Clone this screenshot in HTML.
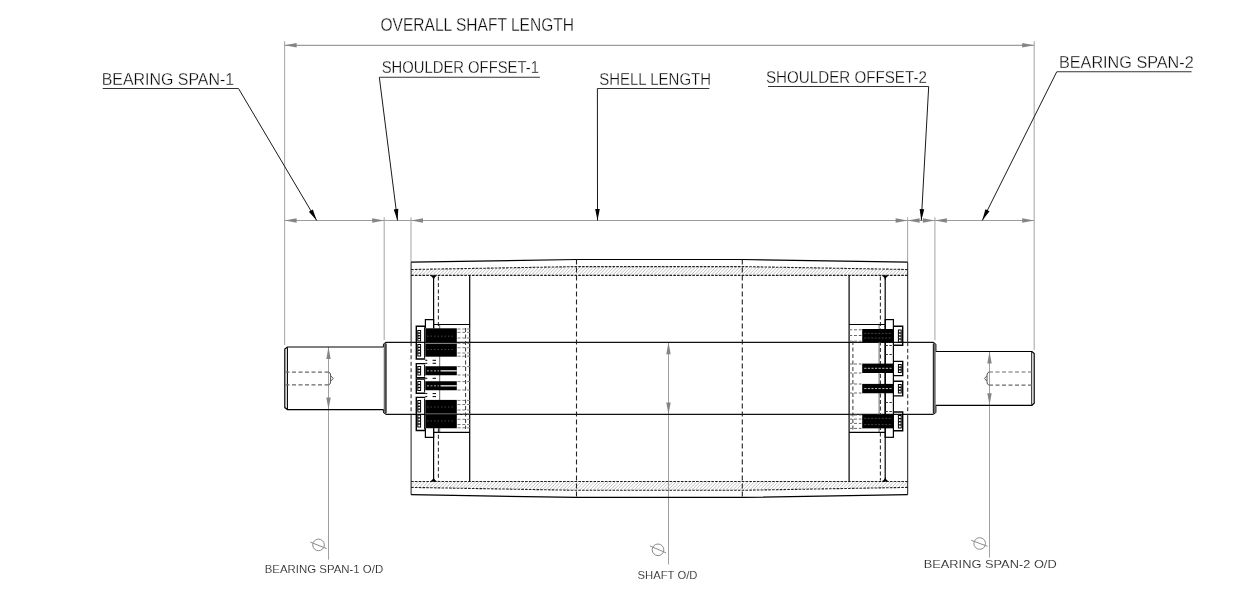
<!DOCTYPE html>
<html><head><meta charset="utf-8"><style>
html,body{margin:0;padding:0;background:#fff;overflow:hidden;}
svg{display:block;will-change:transform;}
text{font-family:"Liberation Sans", sans-serif;}
</style></head><body>
<svg width="1240" height="600" viewBox="0 0 1240 600">
<rect width="1240" height="600" fill="#ffffff"/>
<line x1="284.60" y1="41.20" x2="284.60" y2="345.00" stroke="#ababab" stroke-width="1.1"/>
<line x1="1034.20" y1="41.20" x2="1034.20" y2="349.80" stroke="#ababab" stroke-width="1.1"/>
<line x1="284.60" y1="45.30" x2="1034.20" y2="45.30" stroke="#9c9c9c" stroke-width="1.15"/>
<polygon points="284.60,45.30 296.60,43.10 296.60,47.50" fill="#858585"/>
<polygon points="1034.20,45.30 1022.20,47.50 1022.20,43.10" fill="#858585"/>
<line x1="284.60" y1="220.50" x2="1034.20" y2="220.50" stroke="#9c9c9c" stroke-width="1.15"/>
<line x1="384.20" y1="217.30" x2="384.20" y2="340.00" stroke="#ababab" stroke-width="1.1"/>
<line x1="411.00" y1="217.30" x2="411.00" y2="262.00" stroke="#ababab" stroke-width="1.1"/>
<line x1="907.60" y1="217.30" x2="907.60" y2="262.00" stroke="#ababab" stroke-width="1.1"/>
<line x1="934.90" y1="217.30" x2="934.90" y2="340.30" stroke="#ababab" stroke-width="1.1"/>
<polygon points="284.60,220.50 296.60,218.30 296.60,222.70" fill="#858585"/>
<polygon points="384.20,220.50 372.20,222.70 372.20,218.30" fill="#858585"/>
<polygon points="411.00,220.50 423.00,218.30 423.00,222.70" fill="#858585"/>
<polygon points="907.60,220.50 895.60,222.70 895.60,218.30" fill="#858585"/>
<polygon points="907.60,220.50 919.60,218.30 919.60,222.70" fill="#858585"/>
<polygon points="934.90,220.50 922.90,222.70 922.90,218.30" fill="#858585"/>
<polygon points="934.90,220.50 946.90,218.30 946.90,222.70" fill="#858585"/>
<polygon points="1034.20,220.50 1022.20,222.70 1022.20,218.30" fill="#858585"/>
<line x1="238.50" y1="88.50" x2="316.70" y2="220.50" stroke="#1a1a1a" stroke-width="1.0"/>
<polygon points="316.70,220.50 308.86,211.78 312.82,209.43" fill="#000000"/>
<line x1="379.30" y1="77.20" x2="397.50" y2="220.50" stroke="#1a1a1a" stroke-width="1.0"/>
<polygon points="397.50,220.50 393.77,209.38 398.33,208.80" fill="#000000"/>
<line x1="597.40" y1="88.50" x2="597.50" y2="220.50" stroke="#1a1a1a" stroke-width="1.0"/>
<polygon points="597.50,220.50 595.19,209.00 599.79,209.00" fill="#000000"/>
<line x1="928.70" y1="86.50" x2="921.30" y2="220.50" stroke="#1a1a1a" stroke-width="1.0"/>
<polygon points="921.30,220.50 919.64,208.89 924.23,209.14" fill="#000000"/>
<line x1="1056.75" y1="71.75" x2="982.30" y2="220.50" stroke="#1a1a1a" stroke-width="1.0"/>
<polygon points="982.30,220.50 985.39,209.19 989.50,211.25" fill="#000000"/>
<line x1="102.70" y1="88.50" x2="238.50" y2="88.50" stroke="#333" stroke-width="1.1"/>
<line x1="379.30" y1="77.20" x2="540.00" y2="77.20" stroke="#333" stroke-width="1.1"/>
<line x1="597.40" y1="88.50" x2="709.30" y2="88.50" stroke="#333" stroke-width="1.1"/>
<line x1="768.00" y1="86.50" x2="928.70" y2="86.50" stroke="#333" stroke-width="1.1"/>
<line x1="1056.75" y1="71.75" x2="1191.60" y2="71.75" stroke="#333" stroke-width="1.1"/>
<text x="380.50" y="30.60" font-size="18.2" textLength="193.50" lengthAdjust="spacingAndGlyphs" fill="#0a0a0a" stroke="#ffffff" stroke-width="0.3">OVERALL SHAFT LENGTH</text>
<text x="101.70" y="84.75" font-size="17.4" textLength="132.40" lengthAdjust="spacingAndGlyphs" fill="#0a0a0a" stroke="#ffffff" stroke-width="0.3">BEARING SPAN-1</text>
<text x="381.70" y="73.30" font-size="17.4" textLength="157.20" lengthAdjust="spacingAndGlyphs" fill="#0a0a0a" stroke="#ffffff" stroke-width="0.3">SHOULDER OFFSET-1</text>
<text x="599.20" y="85.20" font-size="17.4" textLength="111.80" lengthAdjust="spacingAndGlyphs" fill="#0a0a0a" stroke="#ffffff" stroke-width="0.3">SHELL LENGTH</text>
<text x="766.00" y="82.70" font-size="17.4" textLength="160.90" lengthAdjust="spacingAndGlyphs" fill="#0a0a0a" stroke="#ffffff" stroke-width="0.3">SHOULDER OFFSET-2</text>
<text x="1059.00" y="67.75" font-size="17.4" textLength="134.70" lengthAdjust="spacingAndGlyphs" fill="#0a0a0a" stroke="#ffffff" stroke-width="0.3">BEARING SPAN-2</text>
<text x="264.70" y="572.90" font-size="11.6" textLength="118.50" lengthAdjust="spacingAndGlyphs" fill="#262626" stroke="#ffffff" stroke-width="0.12">BEARING SPAN-1 O/D</text>
<text x="637.60" y="579.00" font-size="11.6" textLength="59.80" lengthAdjust="spacingAndGlyphs" fill="#262626" stroke="#ffffff" stroke-width="0.12">SHAFT O/D</text>
<text x="923.70" y="567.80" font-size="11.6" textLength="133.00" lengthAdjust="spacingAndGlyphs" fill="#262626" stroke="#ffffff" stroke-width="0.12">BEARING SPAN-2 O/D</text>
<line x1="328.50" y1="347.00" x2="328.50" y2="559.70" stroke="#a0a0a0" stroke-width="1.0"/>
<polygon points="328.50,347.00 330.70,359.00 326.30,359.00" fill="#858585"/>
<polygon points="328.50,409.60 326.30,397.60 330.70,397.60" fill="#858585"/>
<circle cx="318.5" cy="544.9" r="5.8" stroke="#8c8c8c" stroke-width="1" fill="none"/>
<line x1="310.30" y1="542.10" x2="326.60" y2="548.60" stroke="#8c8c8c" stroke-width="1.0"/>
<line x1="668.50" y1="342.30" x2="668.50" y2="564.50" stroke="#a0a0a0" stroke-width="1.0"/>
<polygon points="668.50,342.30 670.70,354.30 666.30,354.30" fill="#858585"/>
<polygon points="668.50,414.40 666.30,402.40 670.70,402.40" fill="#858585"/>
<circle cx="658.0" cy="549.8" r="5.8" stroke="#8c8c8c" stroke-width="1" fill="none"/>
<line x1="650.00" y1="546.00" x2="666.00" y2="552.80" stroke="#8c8c8c" stroke-width="1.0"/>
<line x1="989.50" y1="351.50" x2="989.50" y2="557.60" stroke="#a0a0a0" stroke-width="1.0"/>
<polygon points="989.50,351.50 991.70,363.50 987.30,363.50" fill="#858585"/>
<polygon points="989.50,405.30 987.30,393.30 991.70,393.30" fill="#858585"/>
<circle cx="979.7" cy="543.5" r="5.8" stroke="#8c8c8c" stroke-width="1" fill="none"/>
<line x1="971.20" y1="540.30" x2="987.50" y2="546.30" stroke="#8c8c8c" stroke-width="1.0"/>
<polyline points="383.50,347.00 287.40,347.00 284.80,349.00 284.80,407.60 287.40,409.60 383.50,409.60" stroke="#000000" stroke-width="1.2" fill="none"/>
<line x1="287.40" y1="347.50" x2="287.40" y2="409.10" stroke="#000000" stroke-width="1.1"/>
<line x1="285.50" y1="372.10" x2="328.60" y2="372.10" stroke="#6a6a6a" stroke-width="1.2" stroke-dasharray="4,2.5"/>
<line x1="285.50" y1="384.90" x2="328.60" y2="384.90" stroke="#6a6a6a" stroke-width="1.2" stroke-dasharray="4,2.5"/>
<path d="M328.6,372.1 Q330.6,372.6 330.6,375 L330.6,382 Q330.6,384.4 328.6,384.9 M330.8,376 L333.4,378.5 L330.8,381" stroke="#555" stroke-width="1" fill="none"/>
<polyline points="383.50,347.00 383.50,344.50 386.00,342.30" stroke="#000000" stroke-width="1.2" fill="none"/>
<polyline points="383.50,409.60 383.50,412.20 386.00,414.40" stroke="#000000" stroke-width="1.2" fill="none"/>
<line x1="384.90" y1="343.50" x2="384.90" y2="413.20" stroke="#6e6e6e" stroke-width="2.4"/>
<line x1="386.10" y1="343.50" x2="386.10" y2="413.20" stroke="#000000" stroke-width="0.9"/>
<polyline points="935.80,351.50 1031.90,351.50 1034.20,353.60 1034.20,403.20 1031.90,405.30 935.80,405.30" stroke="#000000" stroke-width="1.2" fill="none"/>
<line x1="1031.70" y1="352.00" x2="1031.70" y2="404.80" stroke="#000000" stroke-width="0.9"/>
<line x1="989.00" y1="372.00" x2="1033.00" y2="372.00" stroke="#6a6a6a" stroke-width="1.2" stroke-dasharray="4,2.5"/>
<line x1="989.00" y1="385.10" x2="1033.00" y2="385.10" stroke="#6a6a6a" stroke-width="1.2" stroke-dasharray="4,2.5"/>
<path d="M989.0,372.0 Q987.0,372.5 987.0,375 L987.0,382 Q987.0,384.6 989.0,385.1 M986.8,376 L984.4,378.5 L986.8,381" stroke="#555" stroke-width="1" fill="none"/>
<polyline points="935.80,351.50 935.80,344.50 933.20,342.30" stroke="#000000" stroke-width="1.2" fill="none"/>
<polyline points="935.80,405.30 935.80,412.20 933.20,414.40" stroke="#000000" stroke-width="1.2" fill="none"/>
<line x1="934.50" y1="343.50" x2="934.50" y2="413.20" stroke="#6e6e6e" stroke-width="2.4"/>
<line x1="933.30" y1="343.50" x2="933.30" y2="413.20" stroke="#000000" stroke-width="0.9"/>
<line x1="386.00" y1="342.30" x2="933.20" y2="342.30" stroke="#111" stroke-width="1.15"/>
<line x1="386.00" y1="414.40" x2="933.20" y2="414.40" stroke="#111" stroke-width="1.15"/>
<polyline points="411.10,262.20 576.50,259.50 742.30,259.50 907.70,262.20" stroke="#000000" stroke-width="1.2" fill="none"/>
<polyline points="411.10,494.70 576.50,497.40 742.30,497.40 907.70,494.70" stroke="#000000" stroke-width="1.2" fill="none"/>
<clipPath id="hb1"><path d="M411.10,269.50 L576.50,266.60 L742.30,266.60 L907.70,269.50 L907.70,275.40 L411.10,275.40 Z"/></clipPath>
<clipPath id="hb2"><path d="M411.10,487.40 L576.50,490.30 L742.30,490.30 L907.70,487.40 L907.70,481.50 L411.10,481.50 Z"/></clipPath>
<path d="M400.00,277.00 L413.00,264.00 M403.40,277.00 L416.40,264.00 M406.80,277.00 L419.80,264.00 M410.20,277.00 L423.20,264.00 M413.60,277.00 L426.60,264.00 M417.00,277.00 L430.00,264.00 M420.40,277.00 L433.40,264.00 M423.80,277.00 L436.80,264.00 M427.20,277.00 L440.20,264.00 M430.60,277.00 L443.60,264.00 M434.00,277.00 L447.00,264.00 M437.40,277.00 L450.40,264.00 M440.80,277.00 L453.80,264.00 M444.20,277.00 L457.20,264.00 M447.60,277.00 L460.60,264.00 M451.00,277.00 L464.00,264.00 M454.40,277.00 L467.40,264.00 M457.80,277.00 L470.80,264.00 M461.20,277.00 L474.20,264.00 M464.60,277.00 L477.60,264.00 M468.00,277.00 L481.00,264.00 M471.40,277.00 L484.40,264.00 M474.80,277.00 L487.80,264.00 M478.20,277.00 L491.20,264.00 M481.60,277.00 L494.60,264.00 M485.00,277.00 L498.00,264.00 M488.40,277.00 L501.40,264.00 M491.80,277.00 L504.80,264.00 M495.20,277.00 L508.20,264.00 M498.60,277.00 L511.60,264.00 M502.00,277.00 L515.00,264.00 M505.40,277.00 L518.40,264.00 M508.80,277.00 L521.80,264.00 M512.20,277.00 L525.20,264.00 M515.60,277.00 L528.60,264.00 M519.00,277.00 L532.00,264.00 M522.40,277.00 L535.40,264.00 M525.80,277.00 L538.80,264.00 M529.20,277.00 L542.20,264.00 M532.60,277.00 L545.60,264.00 M536.00,277.00 L549.00,264.00 M539.40,277.00 L552.40,264.00 M542.80,277.00 L555.80,264.00 M546.20,277.00 L559.20,264.00 M549.60,277.00 L562.60,264.00 M553.00,277.00 L566.00,264.00 M556.40,277.00 L569.40,264.00 M559.80,277.00 L572.80,264.00 M563.20,277.00 L576.20,264.00 M566.60,277.00 L579.60,264.00 M570.00,277.00 L583.00,264.00 M573.40,277.00 L586.40,264.00 M576.80,277.00 L589.80,264.00 M580.20,277.00 L593.20,264.00 M583.60,277.00 L596.60,264.00 M587.00,277.00 L600.00,264.00 M590.40,277.00 L603.40,264.00 M593.80,277.00 L606.80,264.00 M597.20,277.00 L610.20,264.00 M600.60,277.00 L613.60,264.00 M604.00,277.00 L617.00,264.00 M607.40,277.00 L620.40,264.00 M610.80,277.00 L623.80,264.00 M614.20,277.00 L627.20,264.00 M617.60,277.00 L630.60,264.00 M621.00,277.00 L634.00,264.00 M624.40,277.00 L637.40,264.00 M627.80,277.00 L640.80,264.00 M631.20,277.00 L644.20,264.00 M634.60,277.00 L647.60,264.00 M638.00,277.00 L651.00,264.00 M641.40,277.00 L654.40,264.00 M644.80,277.00 L657.80,264.00 M648.20,277.00 L661.20,264.00 M651.60,277.00 L664.60,264.00 M655.00,277.00 L668.00,264.00 M658.40,277.00 L671.40,264.00 M661.80,277.00 L674.80,264.00 M665.20,277.00 L678.20,264.00 M668.60,277.00 L681.60,264.00 M672.00,277.00 L685.00,264.00 M675.40,277.00 L688.40,264.00 M678.80,277.00 L691.80,264.00 M682.20,277.00 L695.20,264.00 M685.60,277.00 L698.60,264.00 M689.00,277.00 L702.00,264.00 M692.40,277.00 L705.40,264.00 M695.80,277.00 L708.80,264.00 M699.20,277.00 L712.20,264.00 M702.60,277.00 L715.60,264.00 M706.00,277.00 L719.00,264.00 M709.40,277.00 L722.40,264.00 M712.80,277.00 L725.80,264.00 M716.20,277.00 L729.20,264.00 M719.60,277.00 L732.60,264.00 M723.00,277.00 L736.00,264.00 M726.40,277.00 L739.40,264.00 M729.80,277.00 L742.80,264.00 M733.20,277.00 L746.20,264.00 M736.60,277.00 L749.60,264.00 M740.00,277.00 L753.00,264.00 M743.40,277.00 L756.40,264.00 M746.80,277.00 L759.80,264.00 M750.20,277.00 L763.20,264.00 M753.60,277.00 L766.60,264.00 M757.00,277.00 L770.00,264.00 M760.40,277.00 L773.40,264.00 M763.80,277.00 L776.80,264.00 M767.20,277.00 L780.20,264.00 M770.60,277.00 L783.60,264.00 M774.00,277.00 L787.00,264.00 M777.40,277.00 L790.40,264.00 M780.80,277.00 L793.80,264.00 M784.20,277.00 L797.20,264.00 M787.60,277.00 L800.60,264.00 M791.00,277.00 L804.00,264.00 M794.40,277.00 L807.40,264.00 M797.80,277.00 L810.80,264.00 M801.20,277.00 L814.20,264.00 M804.60,277.00 L817.60,264.00 M808.00,277.00 L821.00,264.00 M811.40,277.00 L824.40,264.00 M814.80,277.00 L827.80,264.00 M818.20,277.00 L831.20,264.00 M821.60,277.00 L834.60,264.00 M825.00,277.00 L838.00,264.00 M828.40,277.00 L841.40,264.00 M831.80,277.00 L844.80,264.00 M835.20,277.00 L848.20,264.00 M838.60,277.00 L851.60,264.00 M842.00,277.00 L855.00,264.00 M845.40,277.00 L858.40,264.00 M848.80,277.00 L861.80,264.00 M852.20,277.00 L865.20,264.00 M855.60,277.00 L868.60,264.00 M859.00,277.00 L872.00,264.00 M862.40,277.00 L875.40,264.00 M865.80,277.00 L878.80,264.00 M869.20,277.00 L882.20,264.00 M872.60,277.00 L885.60,264.00 M876.00,277.00 L889.00,264.00 M879.40,277.00 L892.40,264.00 M882.80,277.00 L895.80,264.00 M886.20,277.00 L899.20,264.00 M889.60,277.00 L902.60,264.00 M893.00,277.00 L906.00,264.00 M896.40,277.00 L909.40,264.00 M899.80,277.00 L912.80,264.00 M903.20,277.00 L916.20,264.00 M906.60,277.00 L919.60,264.00 M910.00,277.00 L923.00,264.00 M913.40,277.00 L926.40,264.00 M916.80,277.00 L929.80,264.00" stroke="#a8a8a8" stroke-width="0.7" clip-path="url(#hb1)"/>
<path d="M400.00,492.90 L413.00,479.90 M403.40,492.90 L416.40,479.90 M406.80,492.90 L419.80,479.90 M410.20,492.90 L423.20,479.90 M413.60,492.90 L426.60,479.90 M417.00,492.90 L430.00,479.90 M420.40,492.90 L433.40,479.90 M423.80,492.90 L436.80,479.90 M427.20,492.90 L440.20,479.90 M430.60,492.90 L443.60,479.90 M434.00,492.90 L447.00,479.90 M437.40,492.90 L450.40,479.90 M440.80,492.90 L453.80,479.90 M444.20,492.90 L457.20,479.90 M447.60,492.90 L460.60,479.90 M451.00,492.90 L464.00,479.90 M454.40,492.90 L467.40,479.90 M457.80,492.90 L470.80,479.90 M461.20,492.90 L474.20,479.90 M464.60,492.90 L477.60,479.90 M468.00,492.90 L481.00,479.90 M471.40,492.90 L484.40,479.90 M474.80,492.90 L487.80,479.90 M478.20,492.90 L491.20,479.90 M481.60,492.90 L494.60,479.90 M485.00,492.90 L498.00,479.90 M488.40,492.90 L501.40,479.90 M491.80,492.90 L504.80,479.90 M495.20,492.90 L508.20,479.90 M498.60,492.90 L511.60,479.90 M502.00,492.90 L515.00,479.90 M505.40,492.90 L518.40,479.90 M508.80,492.90 L521.80,479.90 M512.20,492.90 L525.20,479.90 M515.60,492.90 L528.60,479.90 M519.00,492.90 L532.00,479.90 M522.40,492.90 L535.40,479.90 M525.80,492.90 L538.80,479.90 M529.20,492.90 L542.20,479.90 M532.60,492.90 L545.60,479.90 M536.00,492.90 L549.00,479.90 M539.40,492.90 L552.40,479.90 M542.80,492.90 L555.80,479.90 M546.20,492.90 L559.20,479.90 M549.60,492.90 L562.60,479.90 M553.00,492.90 L566.00,479.90 M556.40,492.90 L569.40,479.90 M559.80,492.90 L572.80,479.90 M563.20,492.90 L576.20,479.90 M566.60,492.90 L579.60,479.90 M570.00,492.90 L583.00,479.90 M573.40,492.90 L586.40,479.90 M576.80,492.90 L589.80,479.90 M580.20,492.90 L593.20,479.90 M583.60,492.90 L596.60,479.90 M587.00,492.90 L600.00,479.90 M590.40,492.90 L603.40,479.90 M593.80,492.90 L606.80,479.90 M597.20,492.90 L610.20,479.90 M600.60,492.90 L613.60,479.90 M604.00,492.90 L617.00,479.90 M607.40,492.90 L620.40,479.90 M610.80,492.90 L623.80,479.90 M614.20,492.90 L627.20,479.90 M617.60,492.90 L630.60,479.90 M621.00,492.90 L634.00,479.90 M624.40,492.90 L637.40,479.90 M627.80,492.90 L640.80,479.90 M631.20,492.90 L644.20,479.90 M634.60,492.90 L647.60,479.90 M638.00,492.90 L651.00,479.90 M641.40,492.90 L654.40,479.90 M644.80,492.90 L657.80,479.90 M648.20,492.90 L661.20,479.90 M651.60,492.90 L664.60,479.90 M655.00,492.90 L668.00,479.90 M658.40,492.90 L671.40,479.90 M661.80,492.90 L674.80,479.90 M665.20,492.90 L678.20,479.90 M668.60,492.90 L681.60,479.90 M672.00,492.90 L685.00,479.90 M675.40,492.90 L688.40,479.90 M678.80,492.90 L691.80,479.90 M682.20,492.90 L695.20,479.90 M685.60,492.90 L698.60,479.90 M689.00,492.90 L702.00,479.90 M692.40,492.90 L705.40,479.90 M695.80,492.90 L708.80,479.90 M699.20,492.90 L712.20,479.90 M702.60,492.90 L715.60,479.90 M706.00,492.90 L719.00,479.90 M709.40,492.90 L722.40,479.90 M712.80,492.90 L725.80,479.90 M716.20,492.90 L729.20,479.90 M719.60,492.90 L732.60,479.90 M723.00,492.90 L736.00,479.90 M726.40,492.90 L739.40,479.90 M729.80,492.90 L742.80,479.90 M733.20,492.90 L746.20,479.90 M736.60,492.90 L749.60,479.90 M740.00,492.90 L753.00,479.90 M743.40,492.90 L756.40,479.90 M746.80,492.90 L759.80,479.90 M750.20,492.90 L763.20,479.90 M753.60,492.90 L766.60,479.90 M757.00,492.90 L770.00,479.90 M760.40,492.90 L773.40,479.90 M763.80,492.90 L776.80,479.90 M767.20,492.90 L780.20,479.90 M770.60,492.90 L783.60,479.90 M774.00,492.90 L787.00,479.90 M777.40,492.90 L790.40,479.90 M780.80,492.90 L793.80,479.90 M784.20,492.90 L797.20,479.90 M787.60,492.90 L800.60,479.90 M791.00,492.90 L804.00,479.90 M794.40,492.90 L807.40,479.90 M797.80,492.90 L810.80,479.90 M801.20,492.90 L814.20,479.90 M804.60,492.90 L817.60,479.90 M808.00,492.90 L821.00,479.90 M811.40,492.90 L824.40,479.90 M814.80,492.90 L827.80,479.90 M818.20,492.90 L831.20,479.90 M821.60,492.90 L834.60,479.90 M825.00,492.90 L838.00,479.90 M828.40,492.90 L841.40,479.90 M831.80,492.90 L844.80,479.90 M835.20,492.90 L848.20,479.90 M838.60,492.90 L851.60,479.90 M842.00,492.90 L855.00,479.90 M845.40,492.90 L858.40,479.90 M848.80,492.90 L861.80,479.90 M852.20,492.90 L865.20,479.90 M855.60,492.90 L868.60,479.90 M859.00,492.90 L872.00,479.90 M862.40,492.90 L875.40,479.90 M865.80,492.90 L878.80,479.90 M869.20,492.90 L882.20,479.90 M872.60,492.90 L885.60,479.90 M876.00,492.90 L889.00,479.90 M879.40,492.90 L892.40,479.90 M882.80,492.90 L895.80,479.90 M886.20,492.90 L899.20,479.90 M889.60,492.90 L902.60,479.90 M893.00,492.90 L906.00,479.90 M896.40,492.90 L909.40,479.90 M899.80,492.90 L912.80,479.90 M903.20,492.90 L916.20,479.90 M906.60,492.90 L919.60,479.90 M910.00,492.90 L923.00,479.90 M913.40,492.90 L926.40,479.90 M916.80,492.90 L929.80,479.90" stroke="#a8a8a8" stroke-width="0.7" clip-path="url(#hb2)"/>
<polyline points="411.10,269.50 576.50,266.60 742.30,266.60 907.70,269.50" stroke="#222" stroke-width="1.1" fill="none" stroke-dasharray="2.6,1.2"/>
<polyline points="411.10,487.40 576.50,490.30 742.30,490.30 907.70,487.40" stroke="#222" stroke-width="1.1" fill="none" stroke-dasharray="2.6,1.2"/>
<line x1="411.10" y1="275.40" x2="907.70" y2="275.40" stroke="#222" stroke-width="1.1" stroke-dasharray="2.6,1.2"/>
<line x1="411.10" y1="481.50" x2="907.70" y2="481.50" stroke="#222" stroke-width="1.1" stroke-dasharray="2.6,1.2"/>
<line x1="411.10" y1="262.20" x2="411.10" y2="342.30" stroke="#1a1a1a" stroke-width="1.0"/>
<line x1="411.10" y1="414.40" x2="411.10" y2="494.70" stroke="#1a1a1a" stroke-width="1.0"/>
<line x1="411.10" y1="342.30" x2="411.10" y2="414.40" stroke="#333" stroke-width="1.1" stroke-dasharray="4,2.5"/>
<line x1="907.70" y1="262.20" x2="907.70" y2="342.30" stroke="#1a1a1a" stroke-width="1.0"/>
<line x1="907.70" y1="414.40" x2="907.70" y2="494.70" stroke="#1a1a1a" stroke-width="1.0"/>
<line x1="907.70" y1="342.30" x2="907.70" y2="414.40" stroke="#333" stroke-width="1.1" stroke-dasharray="4,2.5"/>
<line x1="576.50" y1="259.50" x2="576.50" y2="497.40" stroke="#222" stroke-width="1.1" stroke-dasharray="5,3"/>
<line x1="742.30" y1="259.50" x2="742.30" y2="497.40" stroke="#222" stroke-width="1.1" stroke-dasharray="5,3"/>
<line x1="433.60" y1="275.40" x2="433.60" y2="328.30" stroke="#000000" stroke-width="1.2"/>
<line x1="433.60" y1="428.25" x2="433.60" y2="481.50" stroke="#000000" stroke-width="1.2"/>
<line x1="438.40" y1="276.40" x2="438.40" y2="328.30" stroke="#333333" stroke-width="1.1" stroke-dasharray="4,2.5"/>
<line x1="438.40" y1="428.25" x2="438.40" y2="480.50" stroke="#333333" stroke-width="1.1" stroke-dasharray="4,2.5"/>
<line x1="439.70" y1="324.50" x2="439.70" y2="432.40" stroke="#666666" stroke-width="1.0"/>
<line x1="469.70" y1="275.40" x2="469.70" y2="481.50" stroke="#000000" stroke-width="1.2"/>
<path d="M429.60,275.40 L437.60,275.40 Q434.20,276.60 433.60,280.20 Q433.00,276.60 429.60,275.40 Z" fill="#000"/>
<path d="M429.60,481.50 L437.60,481.50 Q434.20,480.30 433.60,476.70 Q433.00,480.30 429.60,481.50 Z" fill="#000"/>
<line x1="433.60" y1="324.50" x2="469.70" y2="324.50" stroke="#000000" stroke-width="1.2"/>
<line x1="433.60" y1="432.40" x2="469.70" y2="432.40" stroke="#000000" stroke-width="1.2"/>
<polyline points="425.40,328.30 425.40,319.60 433.60,319.60 433.60,328.30" stroke="#000000" stroke-width="1.2" fill="none"/>
<polyline points="425.40,428.25 425.40,437.30 433.60,437.30 433.60,428.25" stroke="#000000" stroke-width="1.2" fill="none"/>
<line x1="885.20" y1="275.40" x2="885.20" y2="481.50" stroke="#000000" stroke-width="1.2"/>
<line x1="880.40" y1="276.40" x2="880.40" y2="480.50" stroke="#333333" stroke-width="1.1" stroke-dasharray="4,2.5"/>
<line x1="879.10" y1="324.50" x2="879.10" y2="432.40" stroke="#666666" stroke-width="1.0"/>
<line x1="849.10" y1="275.40" x2="849.10" y2="481.50" stroke="#000000" stroke-width="1.2"/>
<path d="M889.20,275.40 L881.20,275.40 Q884.60,276.60 885.20,280.20 Q885.80,276.60 889.20,275.40 Z" fill="#000"/>
<path d="M889.20,481.50 L881.20,481.50 Q884.60,480.30 885.20,476.70 Q885.80,480.30 889.20,481.50 Z" fill="#000"/>
<line x1="885.20" y1="324.50" x2="849.10" y2="324.50" stroke="#000000" stroke-width="1.2"/>
<line x1="885.20" y1="432.40" x2="849.10" y2="432.40" stroke="#000000" stroke-width="1.2"/>
<rect x="885.20" y="319.60" width="8.20" height="117.70" stroke="#000000" stroke-width="1.2" fill="none"/>
<rect x="425.30" y="328.30" width="31.50" height="28.40" fill="#000000"/>
<rect x="425.30" y="399.90" width="31.50" height="28.35" fill="#000000"/>
<rect x="425.30" y="366.25" width="31.50" height="9.00" fill="#000000"/>
<line x1="440.50" y1="370.85" x2="456.80" y2="370.85" stroke="#ffffff" stroke-width="1.2"/>
<line x1="427.00" y1="370.85" x2="439.00" y2="370.85" stroke="#bbbbbb" stroke-width="0.9" stroke-dasharray="2,1.5"/>
<rect x="425.30" y="381.25" width="31.50" height="9.00" fill="#000000"/>
<line x1="440.50" y1="385.85" x2="456.80" y2="385.85" stroke="#ffffff" stroke-width="1.2"/>
<line x1="427.00" y1="385.85" x2="439.00" y2="385.85" stroke="#bbbbbb" stroke-width="0.9" stroke-dasharray="2,1.5"/>
<line x1="427.00" y1="336.20" x2="455.00" y2="336.20" stroke="#505050" stroke-width="0.8" stroke-dasharray="1.5,2"/>
<line x1="427.00" y1="349.50" x2="455.00" y2="349.50" stroke="#505050" stroke-width="0.8" stroke-dasharray="1.5,2"/>
<line x1="427.00" y1="407.00" x2="455.00" y2="407.00" stroke="#505050" stroke-width="0.8" stroke-dasharray="1.5,2"/>
<line x1="427.00" y1="421.00" x2="455.00" y2="421.00" stroke="#505050" stroke-width="0.8" stroke-dasharray="1.5,2"/>
<line x1="425.30" y1="343.40" x2="456.80" y2="343.40" stroke="#cccccc" stroke-width="0.7"/>
<line x1="425.30" y1="413.80" x2="456.80" y2="413.80" stroke="#888888" stroke-width="0.8"/>
<line x1="457.50" y1="329.00" x2="470.00" y2="329.00" stroke="#7a7a7a" stroke-width="1.0" stroke-dasharray="3,1.8"/>
<line x1="457.50" y1="332.40" x2="470.00" y2="332.40" stroke="#7a7a7a" stroke-width="1.0" stroke-dasharray="3,1.8"/>
<line x1="457.50" y1="338.00" x2="470.00" y2="338.00" stroke="#7a7a7a" stroke-width="1.0" stroke-dasharray="3,1.8"/>
<line x1="457.50" y1="343.30" x2="470.00" y2="343.30" stroke="#7a7a7a" stroke-width="1.0" stroke-dasharray="3,1.8"/>
<line x1="457.50" y1="347.70" x2="470.00" y2="347.70" stroke="#7a7a7a" stroke-width="1.0" stroke-dasharray="3,1.8"/>
<line x1="457.50" y1="353.00" x2="470.00" y2="353.00" stroke="#7a7a7a" stroke-width="1.0" stroke-dasharray="3,1.8"/>
<line x1="457.50" y1="356.20" x2="470.00" y2="356.20" stroke="#7a7a7a" stroke-width="1.0" stroke-dasharray="3,1.8"/>
<line x1="457.50" y1="366.60" x2="470.00" y2="366.60" stroke="#7a7a7a" stroke-width="1.0" stroke-dasharray="3,1.8"/>
<line x1="457.50" y1="375.00" x2="470.00" y2="375.00" stroke="#7a7a7a" stroke-width="1.0" stroke-dasharray="3,1.8"/>
<line x1="457.50" y1="381.60" x2="470.00" y2="381.60" stroke="#7a7a7a" stroke-width="1.0" stroke-dasharray="3,1.8"/>
<line x1="457.50" y1="390.00" x2="470.00" y2="390.00" stroke="#7a7a7a" stroke-width="1.0" stroke-dasharray="3,1.8"/>
<line x1="457.50" y1="400.40" x2="470.00" y2="400.40" stroke="#7a7a7a" stroke-width="1.0" stroke-dasharray="3,1.8"/>
<line x1="457.50" y1="404.50" x2="470.00" y2="404.50" stroke="#7a7a7a" stroke-width="1.0" stroke-dasharray="3,1.8"/>
<line x1="457.50" y1="410.00" x2="470.00" y2="410.00" stroke="#7a7a7a" stroke-width="1.0" stroke-dasharray="3,1.8"/>
<line x1="457.50" y1="414.00" x2="470.00" y2="414.00" stroke="#7a7a7a" stroke-width="1.0" stroke-dasharray="3,1.8"/>
<line x1="457.50" y1="419.30" x2="470.00" y2="419.30" stroke="#7a7a7a" stroke-width="1.0" stroke-dasharray="3,1.8"/>
<line x1="457.50" y1="424.50" x2="470.00" y2="424.50" stroke="#7a7a7a" stroke-width="1.0" stroke-dasharray="3,1.8"/>
<line x1="457.50" y1="427.80" x2="470.00" y2="427.80" stroke="#7a7a7a" stroke-width="1.0" stroke-dasharray="3,1.8"/>
<line x1="425.30" y1="360.30" x2="427.30" y2="360.30" stroke="#000000" stroke-width="1.0"/>
<line x1="432.60" y1="360.30" x2="436.00" y2="360.30" stroke="#000000" stroke-width="1.0"/>
<line x1="425.30" y1="363.30" x2="427.30" y2="363.30" stroke="#000000" stroke-width="1.0"/>
<line x1="432.60" y1="363.30" x2="436.00" y2="363.30" stroke="#000000" stroke-width="1.0"/>
<line x1="425.30" y1="378.30" x2="427.30" y2="378.30" stroke="#000000" stroke-width="1.0"/>
<line x1="432.60" y1="378.30" x2="436.00" y2="378.30" stroke="#000000" stroke-width="1.0"/>
<line x1="425.30" y1="393.60" x2="427.30" y2="393.60" stroke="#000000" stroke-width="1.0"/>
<line x1="432.60" y1="393.60" x2="436.00" y2="393.60" stroke="#000000" stroke-width="1.0"/>
<line x1="425.30" y1="396.60" x2="427.30" y2="396.60" stroke="#000000" stroke-width="1.0"/>
<line x1="432.60" y1="396.60" x2="436.00" y2="396.60" stroke="#000000" stroke-width="1.0"/>
<line x1="465.60" y1="328.00" x2="465.60" y2="429.00" stroke="#333333" stroke-width="1.0" stroke-dasharray="4,2.5"/>
<polyline points="425.30,326.30 416.30,326.30 416.30,359.00 425.30,359.00" stroke="#000000" stroke-width="1.4" fill="none"/>
<line x1="424.60" y1="327.30" x2="424.60" y2="358.00" stroke="#000000" stroke-width="1.0"/>
<polyline points="425.30,363.60 416.30,363.60 416.30,377.60 425.30,377.60" stroke="#000000" stroke-width="1.4" fill="none"/>
<line x1="424.60" y1="364.60" x2="424.60" y2="376.60" stroke="#000000" stroke-width="1.0"/>
<polyline points="425.30,379.00 416.30,379.00 416.30,393.30 425.30,393.30" stroke="#000000" stroke-width="1.4" fill="none"/>
<line x1="424.60" y1="380.00" x2="424.60" y2="392.30" stroke="#000000" stroke-width="1.0"/>
<polyline points="425.30,397.40 416.30,397.40 416.30,430.50 425.30,430.50" stroke="#000000" stroke-width="1.4" fill="none"/>
<line x1="424.60" y1="398.40" x2="424.60" y2="429.50" stroke="#000000" stroke-width="1.0"/>
<rect x="417.80" y="330.50" width="2.80" height="10.50" stroke="#000" stroke-width="1.0" fill="#ffffff"/>
<line x1="417.80" y1="333.12" x2="420.60" y2="333.12" stroke="#000" stroke-width="1.3"/>
<line x1="417.80" y1="335.75" x2="420.60" y2="335.75" stroke="#000" stroke-width="1.3"/>
<line x1="417.80" y1="338.38" x2="420.60" y2="338.38" stroke="#000" stroke-width="1.3"/>
<rect x="417.80" y="344.50" width="2.80" height="11.50" stroke="#000" stroke-width="1.0" fill="#ffffff"/>
<line x1="417.80" y1="347.38" x2="420.60" y2="347.38" stroke="#000" stroke-width="1.3"/>
<line x1="417.80" y1="350.25" x2="420.60" y2="350.25" stroke="#000" stroke-width="1.3"/>
<line x1="417.80" y1="353.12" x2="420.60" y2="353.12" stroke="#000" stroke-width="1.3"/>
<rect x="417.80" y="366.50" width="2.80" height="8.50" stroke="#000" stroke-width="1.0" fill="#ffffff"/>
<line x1="417.80" y1="369.33" x2="420.60" y2="369.33" stroke="#000" stroke-width="1.3"/>
<line x1="417.80" y1="372.17" x2="420.60" y2="372.17" stroke="#000" stroke-width="1.3"/>
<rect x="417.80" y="381.50" width="2.80" height="9.00" stroke="#000" stroke-width="1.0" fill="#ffffff"/>
<line x1="417.80" y1="384.50" x2="420.60" y2="384.50" stroke="#000" stroke-width="1.3"/>
<line x1="417.80" y1="387.50" x2="420.60" y2="387.50" stroke="#000" stroke-width="1.3"/>
<rect x="417.80" y="400.50" width="2.80" height="11.50" stroke="#000" stroke-width="1.0" fill="#ffffff"/>
<line x1="417.80" y1="403.38" x2="420.60" y2="403.38" stroke="#000" stroke-width="1.3"/>
<line x1="417.80" y1="406.25" x2="420.60" y2="406.25" stroke="#000" stroke-width="1.3"/>
<line x1="417.80" y1="409.12" x2="420.60" y2="409.12" stroke="#000" stroke-width="1.3"/>
<rect x="417.80" y="415.00" width="2.80" height="12.00" stroke="#000" stroke-width="1.0" fill="#ffffff"/>
<line x1="417.80" y1="418.00" x2="420.60" y2="418.00" stroke="#000" stroke-width="1.3"/>
<line x1="417.80" y1="421.00" x2="420.60" y2="421.00" stroke="#000" stroke-width="1.3"/>
<line x1="417.80" y1="424.00" x2="420.60" y2="424.00" stroke="#000" stroke-width="1.3"/>
<rect x="862.20" y="329.00" width="31.60" height="13.10" fill="#000000"/>
<rect x="862.20" y="414.60" width="31.60" height="13.75" fill="#000000"/>
<line x1="864.20" y1="333.40" x2="891.80" y2="333.40" stroke="#4a4a4a" stroke-width="0.9" stroke-dasharray="2,1.5"/>
<line x1="864.20" y1="338.00" x2="891.80" y2="338.00" stroke="#4a4a4a" stroke-width="0.9" stroke-dasharray="2,1.5"/>
<line x1="864.20" y1="418.40" x2="891.80" y2="418.40" stroke="#4a4a4a" stroke-width="0.9" stroke-dasharray="2,1.5"/>
<line x1="864.20" y1="424.60" x2="891.80" y2="424.60" stroke="#4a4a4a" stroke-width="0.9" stroke-dasharray="2,1.5"/>
<rect x="862.20" y="363.60" width="31.60" height="9.40" fill="#000000"/>
<line x1="864.20" y1="368.30" x2="891.80" y2="368.30" stroke="#d0d0d0" stroke-width="0.9" stroke-dasharray="2.2,1.4"/>
<rect x="862.20" y="383.90" width="31.60" height="9.35" fill="#000000"/>
<line x1="864.20" y1="388.57" x2="891.80" y2="388.57" stroke="#d0d0d0" stroke-width="0.9" stroke-dasharray="2.2,1.4"/>
<line x1="849.20" y1="329.80" x2="861.50" y2="329.80" stroke="#6a6a6a" stroke-width="1.0" stroke-dasharray="3,1.8"/>
<line x1="849.20" y1="335.50" x2="861.50" y2="335.50" stroke="#6a6a6a" stroke-width="1.0" stroke-dasharray="3,1.8"/>
<line x1="849.20" y1="341.20" x2="861.50" y2="341.20" stroke="#6a6a6a" stroke-width="1.0" stroke-dasharray="3,1.8"/>
<line x1="849.20" y1="364.00" x2="861.50" y2="364.00" stroke="#6a6a6a" stroke-width="1.0" stroke-dasharray="3,1.8"/>
<line x1="849.20" y1="373.00" x2="861.50" y2="373.00" stroke="#6a6a6a" stroke-width="1.0" stroke-dasharray="3,1.8"/>
<line x1="849.20" y1="384.00" x2="861.50" y2="384.00" stroke="#6a6a6a" stroke-width="1.0" stroke-dasharray="3,1.8"/>
<line x1="849.20" y1="393.00" x2="861.50" y2="393.00" stroke="#6a6a6a" stroke-width="1.0" stroke-dasharray="3,1.8"/>
<line x1="849.20" y1="415.00" x2="861.50" y2="415.00" stroke="#6a6a6a" stroke-width="1.0" stroke-dasharray="3,1.8"/>
<line x1="849.20" y1="419.10" x2="861.50" y2="419.10" stroke="#6a6a6a" stroke-width="1.0" stroke-dasharray="3,1.8"/>
<line x1="849.20" y1="423.40" x2="861.50" y2="423.40" stroke="#6a6a6a" stroke-width="1.0" stroke-dasharray="3,1.8"/>
<line x1="849.20" y1="428.40" x2="861.50" y2="428.40" stroke="#6a6a6a" stroke-width="1.0" stroke-dasharray="3,1.8"/>
<polyline points="893.80,326.30 902.70,326.30 902.70,345.30 893.80,345.30" stroke="#000000" stroke-width="1.4" fill="none"/>
<polyline points="893.80,361.40 902.70,361.40 902.70,375.60 893.80,375.60" stroke="#000000" stroke-width="1.4" fill="none"/>
<polyline points="893.80,381.25 902.70,381.25 902.70,395.90 893.80,395.90" stroke="#000000" stroke-width="1.4" fill="none"/>
<polyline points="893.80,412.00 902.70,412.00 902.70,430.75 893.80,430.75" stroke="#000000" stroke-width="1.4" fill="none"/>
<rect x="898.40" y="330.00" width="2.80" height="12.00" stroke="#000" stroke-width="1.0" fill="#ffffff"/>
<line x1="898.40" y1="333.00" x2="901.20" y2="333.00" stroke="#000" stroke-width="1.3"/>
<line x1="898.40" y1="336.00" x2="901.20" y2="336.00" stroke="#000" stroke-width="1.3"/>
<line x1="898.40" y1="339.00" x2="901.20" y2="339.00" stroke="#000" stroke-width="1.3"/>
<rect x="898.40" y="364.50" width="2.80" height="8.00" stroke="#000" stroke-width="1.0" fill="#ffffff"/>
<line x1="898.40" y1="367.17" x2="901.20" y2="367.17" stroke="#000" stroke-width="1.3"/>
<line x1="898.40" y1="369.83" x2="901.20" y2="369.83" stroke="#000" stroke-width="1.3"/>
<rect x="898.40" y="384.50" width="2.80" height="8.50" stroke="#000" stroke-width="1.0" fill="#ffffff"/>
<line x1="898.40" y1="387.33" x2="901.20" y2="387.33" stroke="#000" stroke-width="1.3"/>
<line x1="898.40" y1="390.17" x2="901.20" y2="390.17" stroke="#000" stroke-width="1.3"/>
<rect x="898.40" y="415.50" width="2.80" height="12.50" stroke="#000" stroke-width="1.0" fill="#ffffff"/>
<line x1="898.40" y1="418.62" x2="901.20" y2="418.62" stroke="#000" stroke-width="1.3"/>
<line x1="898.40" y1="421.75" x2="901.20" y2="421.75" stroke="#000" stroke-width="1.3"/>
<line x1="898.40" y1="424.88" x2="901.20" y2="424.88" stroke="#000" stroke-width="1.3"/>
<line x1="852.90" y1="341.00" x2="852.90" y2="432.00" stroke="#333333" stroke-width="1.0" stroke-dasharray="4,2.5"/>
<line x1="885.40" y1="402.50" x2="893.70" y2="402.50" stroke="#333333" stroke-width="1.0" stroke-dasharray="2.5,1.5"/>
<line x1="885.40" y1="411.50" x2="893.70" y2="411.50" stroke="#333333" stroke-width="1.0" stroke-dasharray="2.5,1.5"/>
<line x1="885.40" y1="345.50" x2="893.70" y2="345.50" stroke="#333333" stroke-width="1.0" stroke-dasharray="2.5,1.5"/>
<line x1="885.40" y1="354.50" x2="893.70" y2="354.50" stroke="#333333" stroke-width="1.0" stroke-dasharray="2.5,1.5"/>
</svg></body></html>
